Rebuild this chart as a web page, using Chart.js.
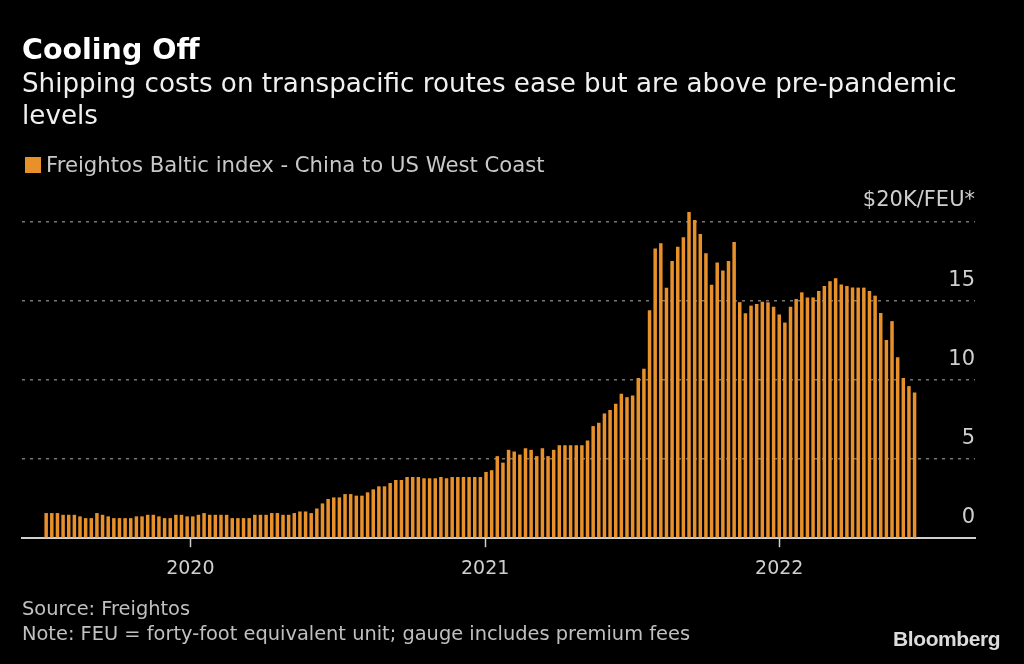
<!DOCTYPE html>
<html>
<head>
<meta charset="utf-8">
<script src="https://cdn.jsdelivr.net/npm/chart.js@4.4.1/dist/chart.umd.min.js"></script>
<style>
  html, body { margin: 0; padding: 0; background: #000; }
  #page { position: relative; width: 1024px; height: 664px; background: #000; overflow: hidden; font-family: "DejaVu Sans", sans-serif; }
  #chart { position: absolute; left: 0; top: 0; }
  .txt { position: absolute; white-space: nowrap; }
  #title { left: 22px; top: 33px; font-size: 28.5px; font-weight: bold; color: #fff; }
  #subtitle { left: 22px; top: 67px; font-size: 26.2px; line-height: 32px; color: #f0f0f0; white-space: normal; width: 980px; }
  #legend { left: 25px; top: 152px; font-size: 21.2px; color: #c8c8c8; }
  #legend span.box { display: inline-block; width: 16px; height: 16px; background: #e8912b; vertical-align: -1px; margin-right: 5px; }
  #source { left: 22px; top: 596px; font-size: 19.4px; color: #c0c0c0; line-height: 25px; }
  #logo { left: 893px; top: 627px; font-family: "Liberation Sans", Arial, sans-serif; font-weight: bold; font-size: 21px; color: #dcdcdc; letter-spacing: -0.4px; }
</style>
</head>
<body>
<div id="page">
  <canvas id="chart" width="1024" height="664"></canvas>
  <div class="txt" id="title">Cooling Off</div>
  <div class="txt" id="subtitle">Shipping costs on transpacific routes ease but are above pre-pandemic levels</div>
  <div class="txt" id="legend"><span class="box"></span>Freightos Baltic index - China to US West Coast</div>
  <div class="txt" id="source">Source: Freightos<br>Note: FEU = forty-foot equivalent unit; gauge includes premium fees</div>
  <div class="txt" id="logo">Bloomberg</div>
</div>
<script>
// weekly index, $K per FEU, first reading early July 2019
const firstWeek = Date.UTC(2019, 6, 6);
const WEEK = 7 * 24 * 3600 * 1000;

const fbx2019 = [1.59, 1.59, 1.59, 1.48, 1.48, 1.48, 1.38, 1.27, 1.27, 1.59, 1.48, 1.38, 1.27, 1.27, 1.27, 1.27, 1.38, 1.38, 1.48, 1.48, 1.38, 1.27, 1.27, 1.48, 1.48, 1.38];
const fbx2020 = [1.38, 1.48, 1.59, 1.48, 1.48, 1.48, 1.48, 1.27, 1.27, 1.27, 1.27, 1.48, 1.48, 1.48, 1.59, 1.59, 1.48, 1.48, 1.59, 1.69, 1.69, 1.59, 1.88, 2.2, 2.48, 2.58, 2.58, 2.79, 2.79, 2.69, 2.69, 2.9, 3.09, 3.28, 3.28, 3.49, 3.68, 3.68, 3.87, 3.87, 3.87, 3.79, 3.79, 3.79, 3.87, 3.79, 3.87, 3.87, 3.87, 3.87, 3.87, 3.87];
const fbx2021 = [4.19, 4.3, 5.19, 4.78, 5.59, 5.48, 5.29, 5.69, 5.59, 5.19, 5.69, 5.19, 5.59, 5.88, 5.88, 5.88, 5.88, 5.88, 6.18, 7.09, 7.3, 7.89, 8.11, 8.51, 9.13, 8.92, 9.03, 10.13, 10.72, 14.42, 18.33, 18.65, 15.84, 17.53, 18.44, 19.03, 20.63, 20.13, 19.24, 18.03, 16.03, 17.44, 16.93, 17.53, 18.73, 14.93, 14.23, 14.71, 14.82, 14.96, 14.92, 14.64];
const fbx2022 = [14.15, 13.64, 14.64, 15.13, 15.55, 15.23, 15.23, 15.64, 15.95, 16.25, 16.44, 16.04, 15.95, 15.85, 15.85, 15.85, 15.64, 15.34, 14.24, 12.54, 13.73, 11.44, 10.13, 9.62, 9.22];

const fbx = [...fbx2019, ...fbx2020, ...fbx2021, ...fbx2022];
const yearTicks = [2020, 2021, 2022];
const yTicks = [0, 5, 10, 15, 20];

const points = fbx.map(function (v, i) {
  return { x: firstWeek + i * WEEK, y: v };
});

const ctx = document.getElementById("chart").getContext("2d");
new Chart(ctx, {
  type: "bar",
  data: {
    datasets: [{
      label: "Freightos Baltic index - China to US West Coast",
      data: points,
      backgroundColor: "#e8912b",
      borderWidth: 0,
      barPercentage: 0.62,
      categoryPercentage: 1,
      clip: false
    }]
  },
  options: {
    responsive: false,
    animation: false,
    layout: { padding: { left: 22, right: 49, top: 222, bottom: 74 } },
    plugins: { legend: { display: false }, tooltip: { enabled: false } },
    scales: {
      x: {
        type: "linear",
        min: Date.UTC(2019, 5, 6),
        max: Date.UTC(2022, 8, 1),
        offset: false,
        afterBuildTicks: function (scale) {
          scale.ticks = yearTicks.map(function (y) { return { value: Date.UTC(y, 0, 1) }; });
        },
        grid: { offset: false, drawOnChartArea: false, drawTicks: true, tickLength: 9, tickColor: "#cfcfcf", tickWidth: 1.5 },
        border: { display: true, color: "#cfcfcf", width: 2 },
        ticks: {
          color: "#cfcfcf",
          font: { family: "DejaVu Sans", size: 19 },
          padding: 10,
          maxRotation: 0,
          callback: function (v) { return new Date(v).getUTCFullYear(); }
        }
      },
      y: {
        position: "right",
        min: 0,
        max: 20,
        afterBuildTicks: function (scale) {
          scale.ticks = yTicks.map(function (v) { return { value: v }; });
        },
        grid: {
          drawTicks: false,
          color: function (c) { return c.tick && c.tick.value === 0 ? "rgba(0,0,0,0)" : "#777"; },
          lineWidth: 1.5
        },
        border: { display: false, dash: [3, 5] },
        ticks: {
          mirror: true,
          padding: 0,
          labelOffset: -21,
          color: "#cfcfcf",
          font: { family: "DejaVu Sans", size: 21 },
          callback: function (v) { return v === 20 ? "$20K/FEU*" : v; }
        }
      }
    }
  }
});
</script>
</body>
</html>
